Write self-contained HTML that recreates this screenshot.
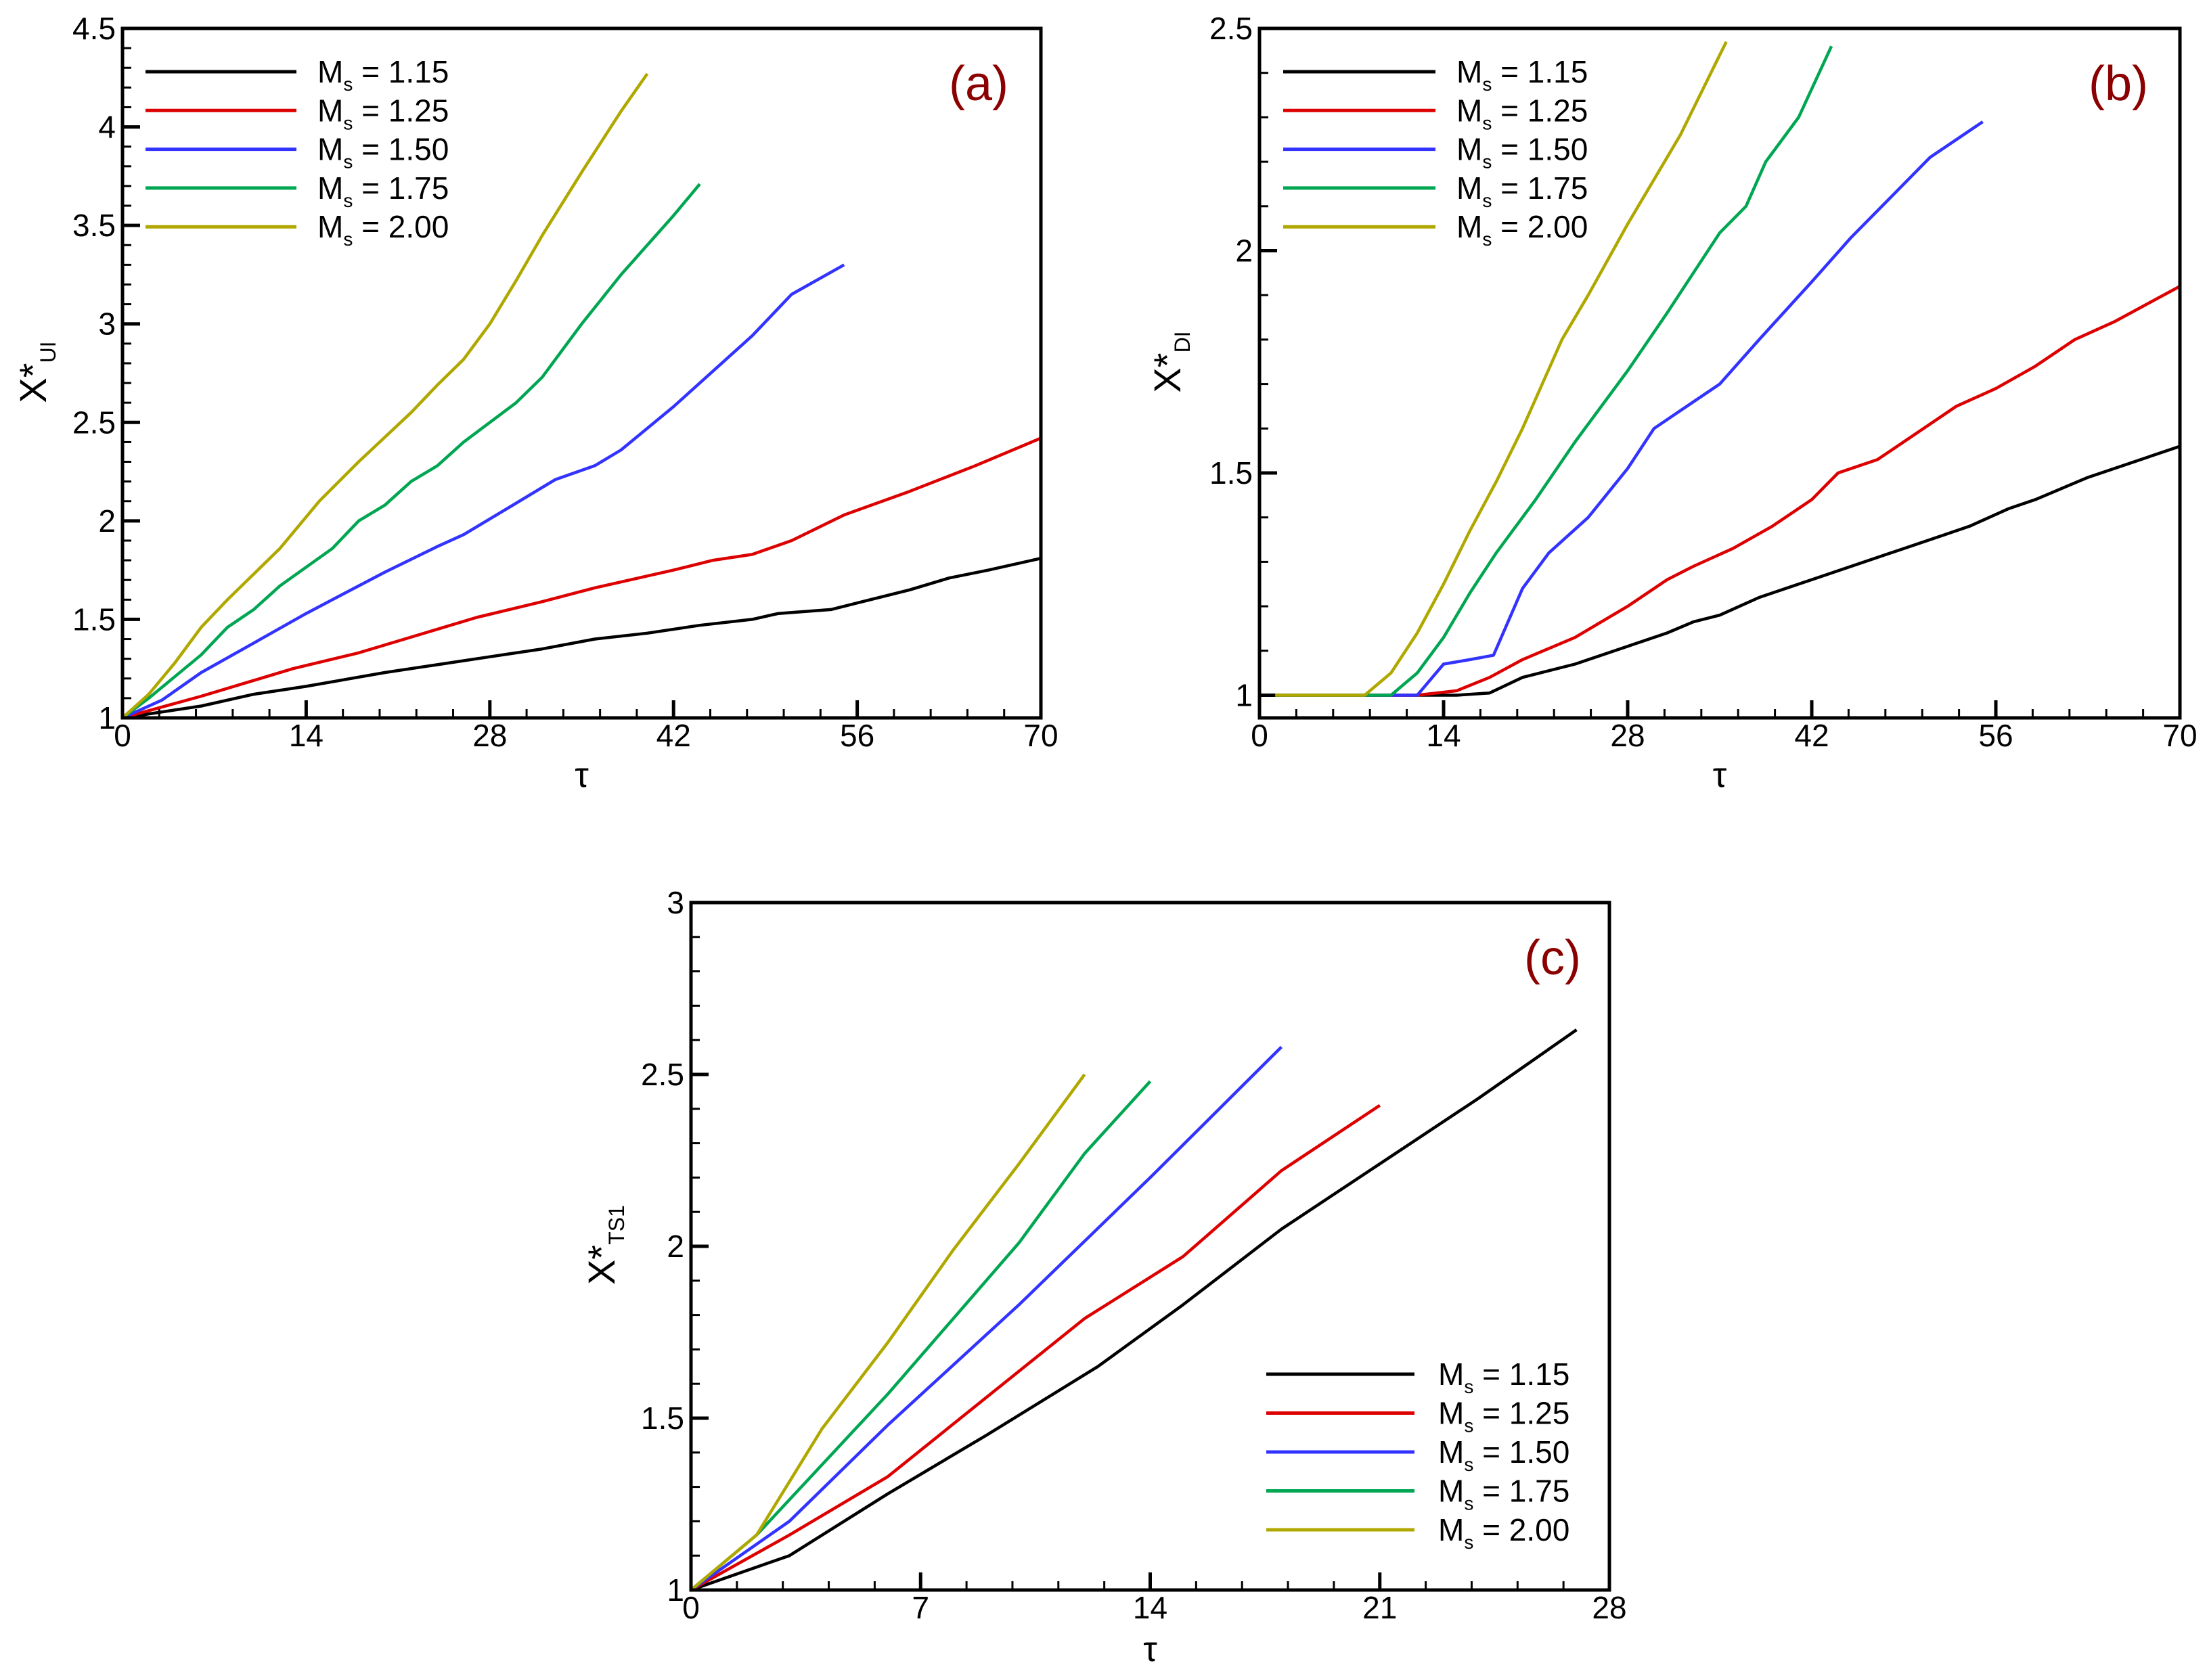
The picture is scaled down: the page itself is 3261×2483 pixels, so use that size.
<!DOCTYPE html>
<html><head><meta charset="utf-8"><style>
html,body{margin:0;padding:0;background:#fff}
svg{display:block}
text{font-family:"Liberation Sans",Arial,sans-serif;fill:#000}
</style></head><body>
<svg id="fig" xmlns="http://www.w3.org/2000/svg" width="3261" height="2483" viewBox="0 0 3261 2483"></svg>
<script>
// ---- data ----
const seriesLabels = ["1.15","1.25","1.50","1.75","2.00"];
const seriesColors = ["#000000","#dd0000","#3333ff","#00a651","#b0a800"];

// panel (a): X*_UI vs tau
const aTau0 = [0,6,10,14,20,28,32,36,40,44,48,50,54,60,63,66,70];
const aVal0 = [1,1.06,1.12,1.16,1.23,1.31,1.35,1.40,1.43,1.47,1.50,1.53,1.55,1.65,1.71,1.75,1.81];
const aTau1 = [0,6,10,13,18,22,27,32,36,38,42,45,48,51,55,60,65,70];
const aVal1 = [1,1.11,1.19,1.25,1.33,1.41,1.51,1.59,1.66,1.69,1.75,1.80,1.83,1.90,2.03,2.15,2.28,2.42];
const aTau2 = [0,3,6,10,14,16,20,24,26,30,33,36,38,42,45,48,51,55];
const aVal2 = [1,1.09,1.23,1.38,1.53,1.60,1.74,1.87,1.93,2.09,2.21,2.28,2.36,2.58,2.76,2.94,3.15,3.30];
const aTau3 = [0,2,6,8,10,12,16,18,20,22,24,26,30,32,35,38,40,42,44];
const aVal3 = [1,1.10,1.32,1.46,1.55,1.67,1.86,2.00,2.08,2.20,2.28,2.40,2.60,2.73,3.00,3.25,3.40,3.55,3.71];
const aTau4 = [0,2,4,6,8,12,15,18,22,24,26,28,30,32,35,38,40];
const aVal4 = [1,1.12,1.28,1.46,1.60,1.86,2.10,2.30,2.55,2.69,2.82,3.00,3.22,3.45,3.77,4.08,4.27];

// panel (b): X*_DI vs tau
const bTau0 = [1.2,12,15,17.5,20,24,28,31,33,35,38,42,45,49,52,54,57,59,63,70];
const bVal0 = [1,1,1,1.005,1.04,1.07,1.11,1.14,1.165,1.18,1.22,1.26,1.29,1.33,1.36,1.38,1.42,1.44,1.49,1.56];
const bTau1 = [1.2,12,15,17.5,20,24,28,31,33,36,39,42,44,47,50,53,56,59,62,65,70];
const bVal1 = [1,1,1.01,1.04,1.08,1.13,1.20,1.26,1.29,1.33,1.38,1.44,1.50,1.53,1.59,1.65,1.69,1.74,1.80,1.84,1.92];
const bTau2 = [1.2,12,14,16,17.8,20,22,25,28,30,32,35,38,42,45,48,51,55];
const bVal2 = [1,1,1.07,1.08,1.09,1.24,1.32,1.40,1.51,1.60,1.64,1.70,1.80,1.93,2.03,2.12,2.21,2.29];
const bTau3 = [1.2,10,12,14,16,18,21,24,28,31,33,35,37,38.5,41,43.5];
const bVal3 = [1,1,1.05,1.13,1.23,1.32,1.44,1.57,1.73,1.86,1.95,2.04,2.10,2.20,2.30,2.46];
const bTau4 = [1.2,8,10,12,14,16,18,20,23,25,28,30,32,35.5];
const bVal4 = [1,1,1.05,1.14,1.25,1.37,1.48,1.60,1.80,1.90,2.06,2.16,2.26,2.47];

// panel (c): X*_TS1 vs tau
const cTau0 = [0,3,6,9,12.4,15,18,21,24,27];
const cVal0 = [1,1.10,1.28,1.45,1.65,1.83,2.05,2.24,2.43,2.63];
const cTau1 = [0,3,6,9,12,15,18,21];
const cVal1 = [1,1.16,1.33,1.56,1.79,1.97,2.22,2.41];
const cTau2 = [0,3,6,10,14,18];
const cVal2 = [1,1.20,1.48,1.83,2.20,2.58];
const cTau3 = [0,2,6,10,12,14];
const cVal3 = [1,1.16,1.57,2.01,2.27,2.48];
const cTau4 = [0,2,4,6,8,10,12];
const cVal4 = [1,1.16,1.47,1.72,1.99,2.24,2.50];

const aXTicks = ["0","14","28","42","56","70"];
const aYTicks = ["1","1.5","2","2.5","3","3.5","4","4.5"];
const bXTicks = ["0","14","28","42","56","70"];
const bYTicks = ["1","1.5","2","2.5"];
const cXTicks = ["0","7","14","21","28"];
const cYTicks = ["1","1.5","2","2.5","3"];

// ---- drawing ----
const svg = document.getElementById('fig');
const NS = "http://www.w3.org/2000/svg";
function mk(tag, attrs, parent){
  const e = document.createElementNS(NS, tag);
  for (const k in attrs) e.setAttribute(k, attrs[k]);
  (parent||svg).appendChild(e);
  return e;
}
function isMult(v, m){ const r = v/m; return Math.abs(r-Math.round(r))<1e-6; }

function panel(cfg){
  const g = mk('g', {});
  
  
  const L=cfg.L,R=cfg.R,T=cfg.T,B=cfg.B;
  const sx = v => L + (v - cfg.xmin)/(cfg.xmax-cfg.xmin)*(R-L);
  const sy = v => B - (v - cfg.ymin)/(cfg.ymax-cfg.ymin)*(B-T);
  const ticks = mk('g', {stroke:'#000','stroke-width':3}, g);
  
  
  const xs = cfg.xmajor/5;
  for (let i=0;;i++){ const v=cfg.xmin+i*xs; if (v>cfg.xmax+1e-9) break;
    const major = isMult(v, cfg.xmajor); const x=sx(v);
    mk('line',{x1:x,x2:x,y1:B,y2:B-(major?26:13),'stroke-width':major?5:3},ticks); }
  const ys = cfg.ymajor/5;
  for (let i=0;;i++){ const v=cfg.yfirst+i*ys; if (v>cfg.ymax+1e-9) break;
    if (v<cfg.ymin-1e-9) continue;
    const major = isMult(v, cfg.ymajor); const y=sy(v);
    mk('line',{x1:L,x2:L+(major?26:13),y1:y,y2:y,'stroke-width':major?5:3},ticks); }
  cfg.xticks.forEach(t=>{
    const tx = mk('text',{x:sx(parseFloat(t)),y:B+42,'font-size':46,'text-anchor':'middle'},g);
    tx.textContent=t;
    
    
  });
  cfg.yticks.forEach(t=>{
    const ty = mk('text',{x:L-10,y:sy(parseFloat(t))+16,'font-size':46,'text-anchor':'end'},g);
    ty.textContent=t;
    
    
  });
  cfg.series.forEach((s,i)=>{
    const pts = s[0].map((t,j)=>sx(t).toFixed(1)+','+sy(s[1][j]).toFixed(1)).join(' ');
    const pl = mk('polyline',{points:pts,fill:'none',stroke:seriesColors[i],'stroke-width':4.5,'stroke-linejoin':'round'},g);
    
    
  });
  const fr = mk('rect',{x:L,y:T,width:R-L,height:B-T,fill:'none',stroke:'#000','stroke-width':5},g);
  
  
  const xt = mk('text',{x:(L+R)/2,y:cfg.xtY,'font-size':52,'text-anchor':'middle','font-family':'Liberation Serif, serif'},g);
  xt.textContent='τ';
  
  
  const yt = mk('text',{x:0,y:0,'font-size':56,'text-anchor':'middle',transform:'translate('+cfg.ytX+','+cfg.ytY+') rotate(-90)'},g);
  yt.innerHTML='X*<tspan font-size="32" dy="14">'+cfg.sub+'</tspan>';
  
  
  const pl = mk('text',{x:cfg.labX,y:cfg.labY,'font-size':72,'text-anchor':'middle',style:'fill:#8b0000'},g);
  pl.textContent=cfg.label;
  
  
  const lg = mk('g',{},g);
  
  
  seriesLabels.forEach((lab,i)=>{
    const y = cfg.legY + i*cfg.legDy;
    const ln = mk('line',{x1:cfg.legX1,x2:cfg.legX2,y1:y,y2:y,stroke:seriesColors[i],'stroke-width':5},lg);
    
    
    const tx = mk('text',{x:cfg.legTX,y:y+16,'font-size':46},lg);
    tx.innerHTML='M<tspan font-size="28" dy="12">s</tspan><tspan dy="-12"> = '+lab+'</tspan>';
    
    
  });
}

panel({id:'a',name:'panel-a',L:181,R:1538,T:42,B:1061,xmin:0,xmax:70,ymin:1,ymax:4.5,yfirst:1,xmajor:14,ymajor:0.5,
  xticks:aXTicks,yticks:aYTicks,xtY:1163,ytX:68,ytY:550,sub:'UI',labX:1446,labY:148,label:'(a)',
  legX1:215,legX2:438,legTX:469,legY:106,legDy:57.3,
  series:[[aTau0,aVal0],[aTau1,aVal1],[aTau2,aVal2],[aTau3,aVal3],[aTau4,aVal4]]});
panel({id:'b',name:'panel-b',L:1861,R:3221,T:42,B:1061,xmin:0,xmax:70,ymin:0.949,ymax:2.5,yfirst:0.9,xmajor:14,ymajor:0.5,
  xticks:bXTicks,yticks:bYTicks,xtY:1163,ytX:1744,ytY:535,sub:'DI',labX:3130,labY:148,label:'(b)',
  legX1:1896,legX2:2121,legTX:2152,legY:106,legDy:57.3,
  series:[[bTau0,bVal0],[bTau1,bVal1],[bTau2,bVal2],[bTau3,bVal3],[bTau4,bVal4]]});
panel({id:'c',name:'panel-c',L:1021,R:2378,T:1334,B:2350,xmin:0,xmax:28,ymin:1,ymax:3,yfirst:1,xmajor:7,ymajor:0.5,
  xticks:cXTicks,yticks:cYTicks,xtY:2455,ytX:908,ytY:1840,sub:'TS1',labX:2294,labY:1440,label:'(c)',
  legX1:1871,legX2:2090,legTX:2125,legY:2031,legDy:57.5,
  series:[[cTau0,cVal0],[cTau1,cVal1],[cTau2,cVal2],[cTau3,cVal3],[cTau4,cVal4]]});
</script>
</body></html>
